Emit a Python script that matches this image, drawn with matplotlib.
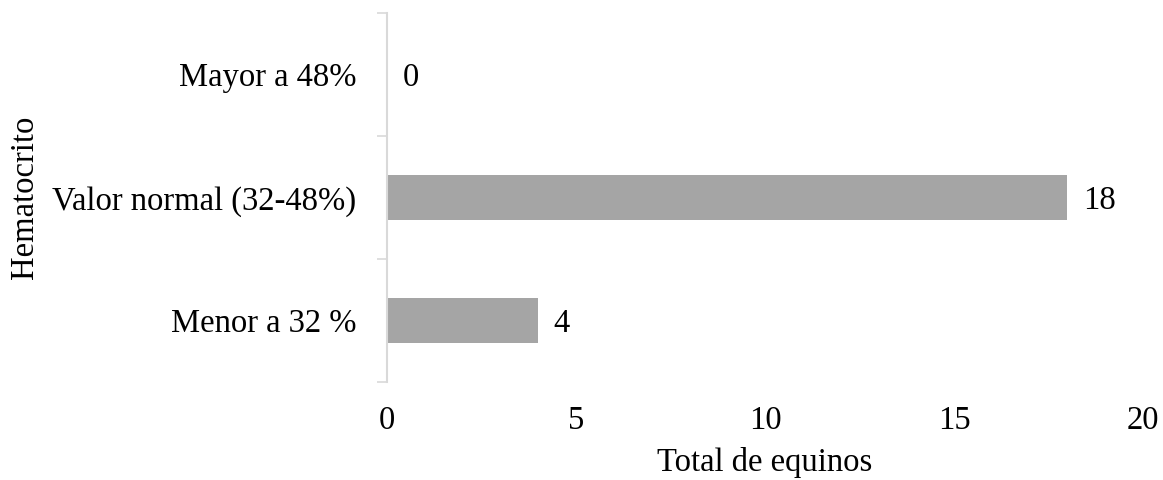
import numpy as np
import matplotlib.pyplot as plt

plt.rcParams['font.family'] = ['Liberation Serif', 'DejaVu Serif']

categories = ['Menor a 32 %', 'Valor normal (32-48%)', 'Mayor a 48%']
totals = [4, 18, 0]

fs = 23.5

fig = plt.figure(figsize=(11.63, 4.8), dpi=100)
ax = fig.add_axes([0.3328, 0.204, 0.65, 0.769])

y = np.arange(len(categories))
ax.barh(y, totals, height=0.36, color='#a5a5a5')

for yi, v in zip(y, totals):
    ax.annotate(str(v), (v, yi), xytext=(11, 0), textcoords='offset points',
                ha='left', va='center_baseline', fontsize=fs)

ax.set_xlim(0, 20)
ax.set_ylim(-0.5, 2.5)
ax.set_xticks([0, 5, 10, 15, 20])
ax.tick_params(axis='x', length=0, pad=17, labelsize=fs)

# category boundaries carry the tick marks, labels sit at bar centres
ax.set_yticks([-0.5, 0.5, 1.5, 2.5])
ax.set_yticklabels([])
ax.set_yticks(y, minor=True)
ax.set_yticklabels(categories, minor=True, fontsize=fs)
ax.tick_params(axis='y', which='major', length=7, width=1.2, color='#d9d9d9')
ax.tick_params(axis='y', which='minor', length=0, pad=22)

for side in ['top', 'right', 'bottom']:
    ax.spines[side].set_visible(False)
ax.spines['left'].set_color('#d9d9d9')
ax.spines['left'].set_linewidth(1.5)

ax.set_xlabel('Total de equinos', fontsize=fs, labelpad=8)
ax.set_ylabel('Hematocrito', fontsize=fs, labelpad=9)

fig.savefig('out.png', dpi=100)
